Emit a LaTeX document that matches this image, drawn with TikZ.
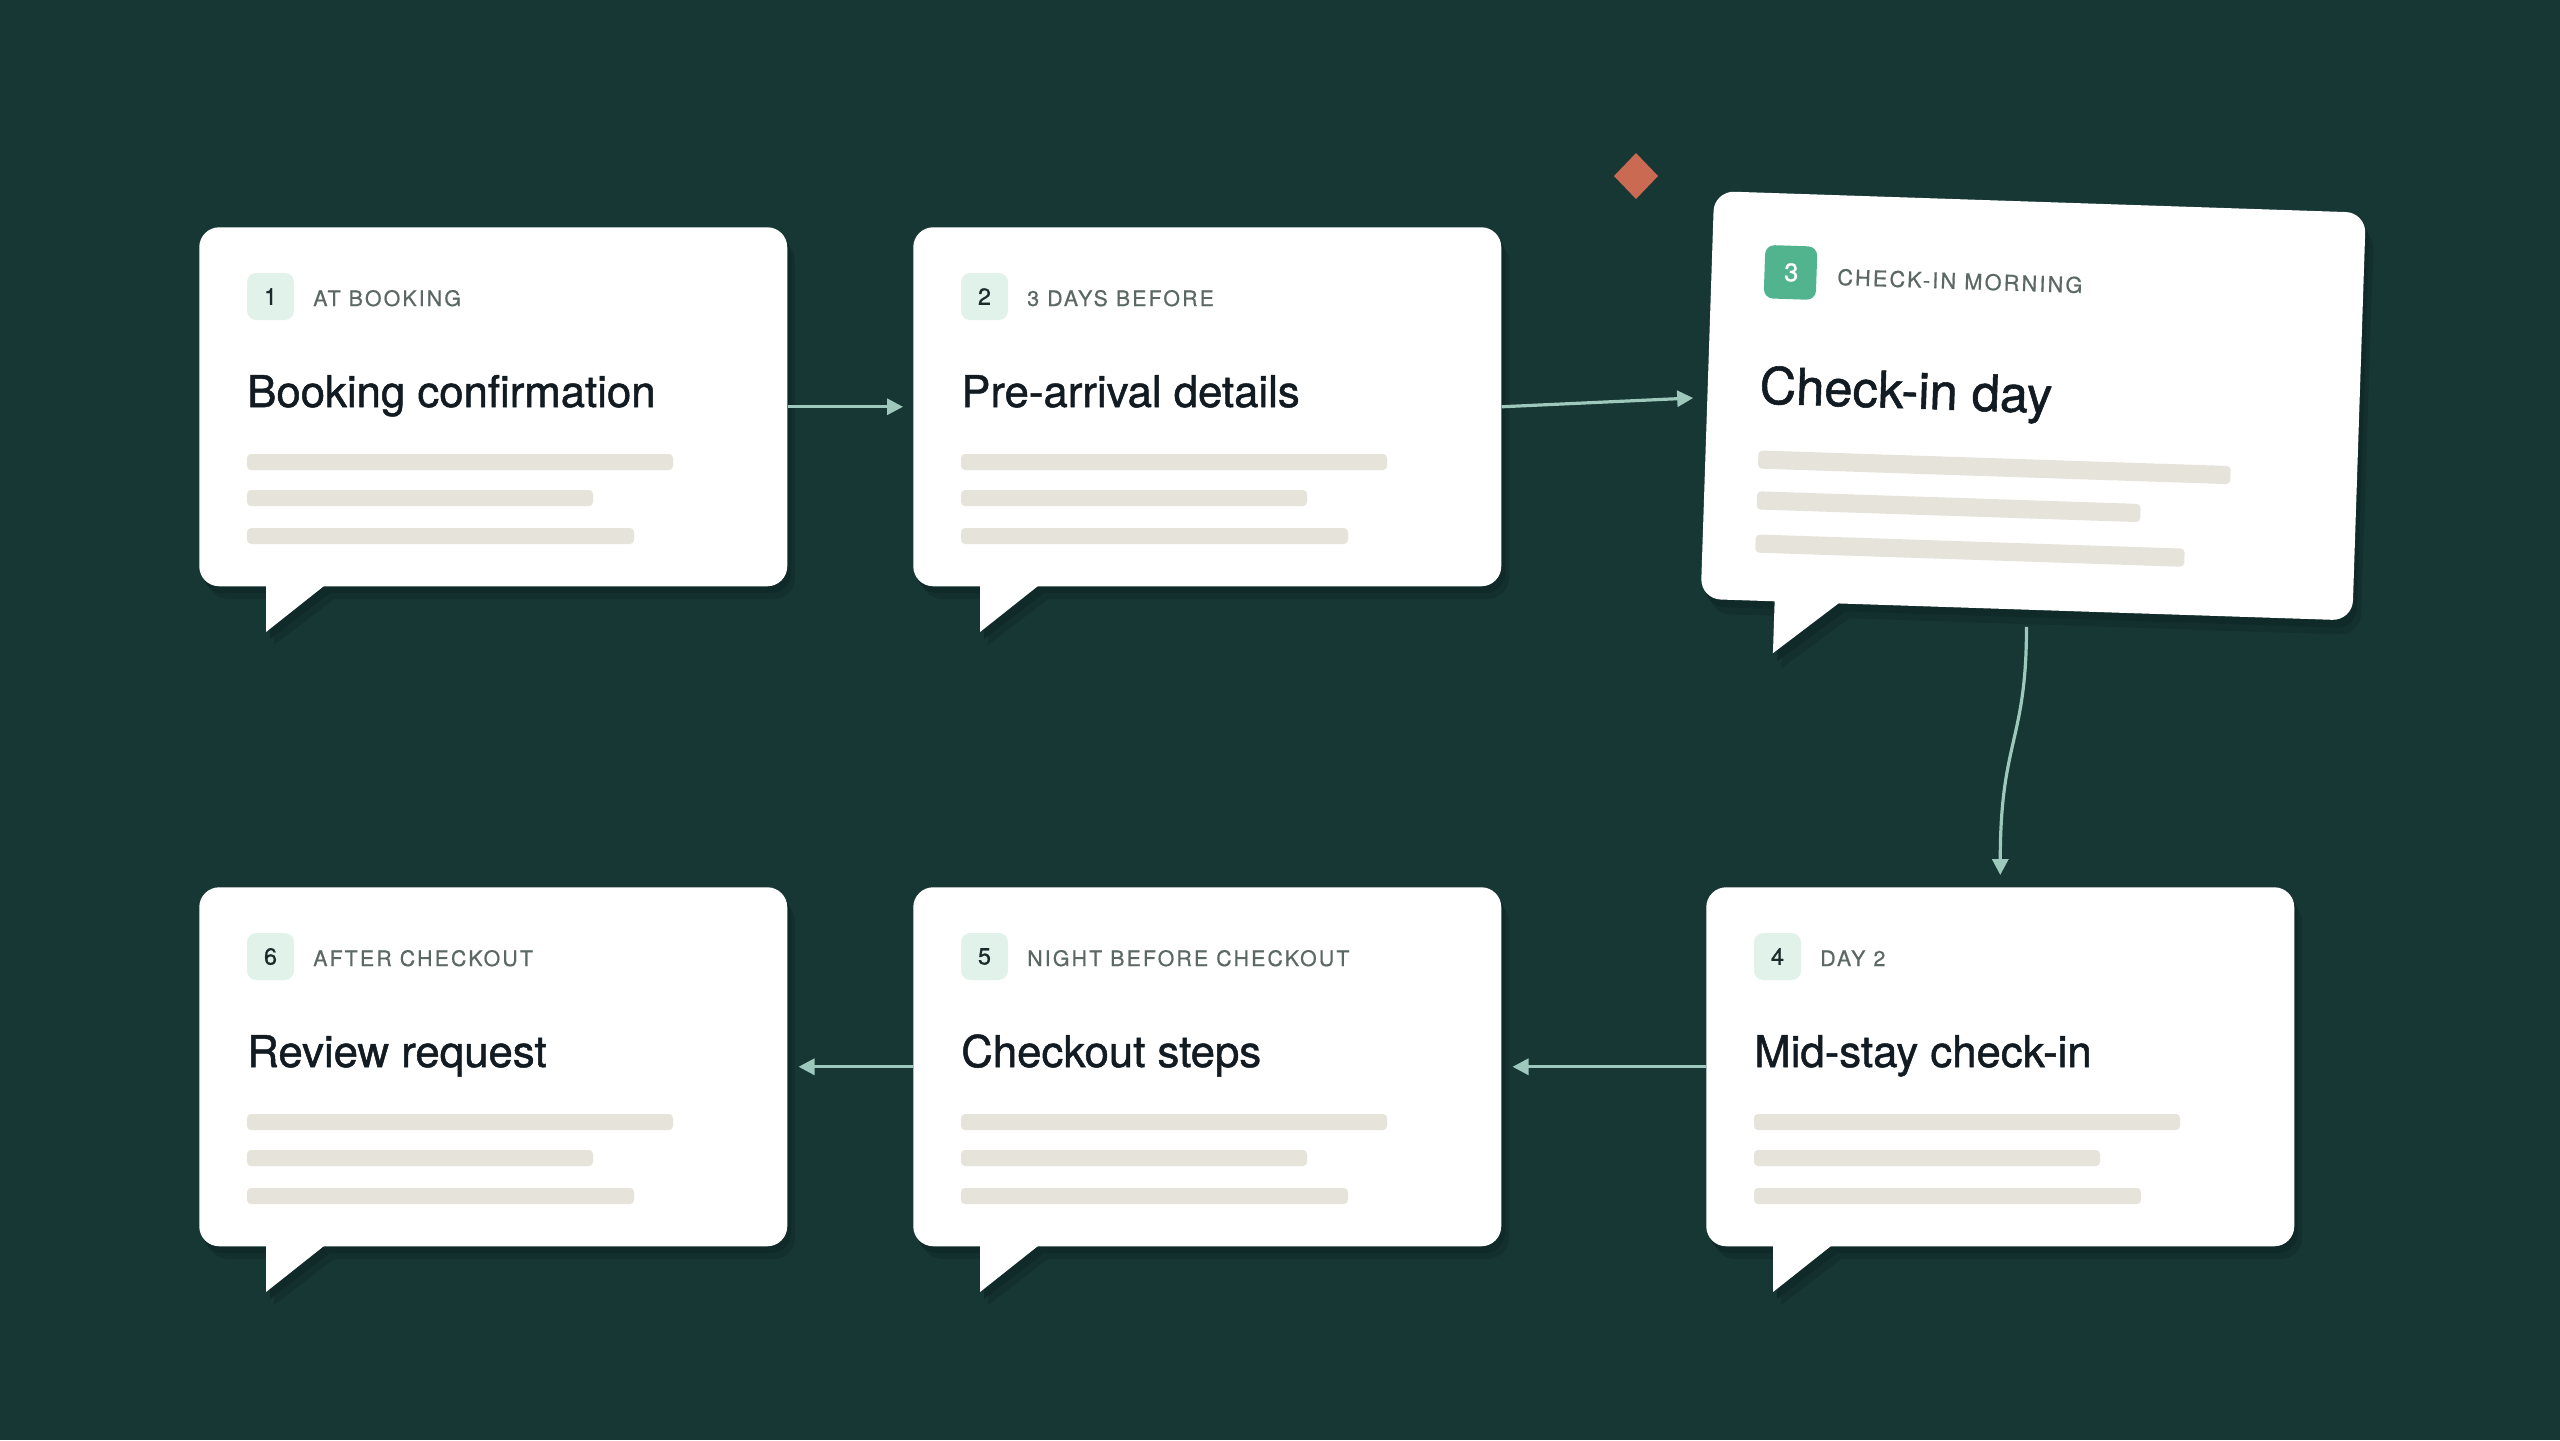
\documentclass[tikz,border=0pt]{standalone}
\usepackage{fontspec}
\setmainfont{TeX Gyre Heros}
\newfontfamily\lblfont[LetterSpace=10,FakeBold=0.6]{TeX Gyre Heros}
\newfontfamily\ttlfont[FakeBold=1.1]{TeX Gyre Heros}
\newfontfamily\numfont[FakeBold=0.8]{TeX Gyre Heros}
\usetikzlibrary{arrows.meta,calc}
\definecolor{bgc}{HTML}{173735}
\definecolor{shc}{HTML}{0F2A28}
\definecolor{shd}{HTML}{13302E}
\definecolor{arrc}{HTML}{9DC8BB}
\definecolor{linec}{HTML}{E6E3DA}
\definecolor{badgel}{HTML}{E1F2EB}
\definecolor{badged}{HTML}{52B48F}
\definecolor{diamc}{HTML}{CB6A52}
\definecolor{titlec}{HTML}{121B22}
\definecolor{lblc}{HTML}{5B6864}
\definecolor{numc}{HTML}{1B2A2A}
\tikzset{
  cardbox/.style={fill=white, rounded corners=15pt, inner sep=0pt, minimum width=441pt, minimum height=269.25pt, anchor=north west},
  bigbox/.style={cardbox, minimum width=489pt, minimum height=306pt},
  arr/.style={draw=arrc, line width=2.4pt, -{Triangle[length=12pt,width=12pt]}},
  phline/.style={fill=linec, rounded corners=3pt},
  shadowA/.style={fill=shd},
  shadowB/.style={fill=shc},
  badgebox/.style={rounded corners=7pt},
  numtxt/.style={font=\numfont\fontsize{17.5pt}{20pt}\selectfont, text=numc, inner sep=0pt},
  lbltxt/.style={font=\lblfont\fontsize{16pt}{19pt}\selectfont, text=lblc, inner sep=0pt, anchor=base west},
  titletxt/.style={font=\ttlfont\fontsize{32.8pt}{38pt}\selectfont, text=titlec, inner sep=0pt, anchor=base west},
}
\newcommand\mkcard[6]{%
\begin{scope}[shift={(#2,#3)}]
  \fill[shadowA] (8,13) [rounded corners=16pt] rectangle (596,372);
  \fill[shadowA] (75,372) -- (75,418) -- (135,372) -- cycle;
  \fill[shadowB] (4,7) [rounded corners=15pt] rectangle (592,366);
  \fill[shadowB] (71,366) -- (71,412) -- (131,366) -- cycle;
  \node[cardbox] (#1) at (0,0) {};
  \fill[white] (67,357) -- (67,405) -- (127.5,357) -- cycle;
  \fill[badgel, badgebox] (48,46) rectangle (95,93);
  \node[numtxt] (#1n) at (71.5,69.5) {#4};
  \node[lbltxt] (#1l) at (114,79) {#5};
  \node[titletxt] (#1t) at (48,180) {#6};
  \fill[phline] (48,227) rectangle (474,243);
  \fill[phline] (48,263) rectangle (394,279);
  \fill[phline] (48,301) rectangle (435,317);
\end{scope}}
\begin{document}
\begin{tikzpicture}[x=0.75pt,y=-0.75pt]
\useasboundingbox (0,0) rectangle (2560,1440);
\fill[bgc] (0,0) rectangle (2560,1440);
% decoration diamond
\fill[diamc] (1636,153) -- (1658,176) -- (1636,199) -- (1614,176) -- cycle;
% regular cards
\mkcard{c1}{199}{227}{1}{AT BOOKING}{Booking confirmation}
\mkcard{c2}{913}{227}{2}{3 DAYS BEFORE}{Pre-arrival details}
\mkcard{c4}{1706}{887}{4}{DAY 2}{Mid-stay check-in}
\mkcard{c5}{913}{887}{5}{NIGHT BEFORE CHECKOUT}{Checkout steps}
\mkcard{c6}{199}{887}{6}{AFTER CHECKOUT}{Review request}
% card 3, tilted and larger
\begin{scope}[shift={(2033,405.5)}, rotate=-1.9, xscale=1.109, yscale=1.136, shift={(-294,-179.5)}]
  \fill[shadowA] (8,13) [rounded corners=16pt] rectangle (596,372);
  \fill[shadowA] (75,372) -- (75,418) -- (135,372) -- cycle;
  \fill[shadowB] (4,7) [rounded corners=15pt] rectangle (592,366);
  \fill[shadowB] (71,366) -- (71,412) -- (131,366) -- cycle;
\end{scope}
\begin{scope}[shift={(2033,405.5)}, rotate=-1.9, shift={(-326,-204)}, transform shape]
  \node[bigbox] (c3) at (0,0) {};
\end{scope}
\begin{scope}[shift={(2033,405.5)}, rotate=-1.9, xscale=1.109, yscale=1.136, shift={(-294,-179.5)}]
  \fill[white] (67,357) -- (67,405) -- (127.5,357) -- cycle;
  \fill[badged, badgebox] (48,46) rectangle (95,93);
  \fill[phline] (48,227) rectangle (474,243);
  \fill[phline] (48,263) rectangle (394,279);
  \fill[phline] (48,301) rectangle (435,317);
\end{scope}
\begin{scope}[shift={(2033,405.5)}, rotate=-1.9, shift={(-326,-204)}, transform shape]
  \node[numtxt, text=white, font=\numfont\fontsize{19pt}{21pt}\selectfont] (c3n) at (80,79) {3};
  \node[lbltxt, font=\lblfont\fontsize{16.3pt}{19pt}\selectfont] (c3l) at (126,90) {CHECK-IN MORNING};
  \node[titletxt, font=\ttlfont\fontsize{38pt}{42pt}\selectfont] (c3t) at (52,211) {Check-in day};
\end{scope}
% connectors
\draw[arr] (c1.east) -- ($(c2.west)+(-10,0)$);
\draw[arr] (c2.east) -- ($(c3.west)+(-14,3)$);
\coordinate (a34) at ($(c3.south)+(0,17)$);
\coordinate (b34) at ($(c4.north)+(0,-12)$);
\draw[arr] (a34) .. controls ($(a34)+(0,115)$) and ($(b34)+(0,-135)$) .. (b34);
\draw[arr] (c4.west) -- ($(c5.east)+(11,0)$);
\draw[arr] (c5.west) -- ($(c6.east)+(11,0)$);
\end{tikzpicture}
\end{document}
